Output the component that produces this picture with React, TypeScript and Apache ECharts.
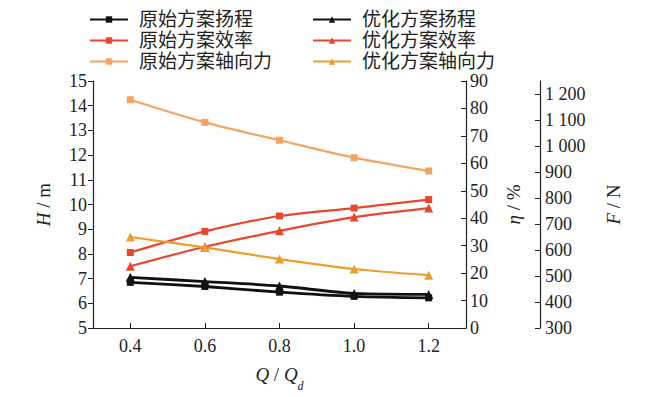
import React, { useEffect, useRef } from "react";
import * as echarts from "echarts";

const flowRatios = [0.4, 0.6, 0.8, 1.0, 1.2];
const xTicks = [0.4, 0.6, 0.8, 1.0, 1.2];
const headOriginal = [6.85, 6.68, 6.45, 6.28, 6.22];
const headOptimized = [7.05, 6.88, 6.7, 6.4, 6.36];
const effOriginal = [27.5, 35.2, 40.8, 43.7, 46.8];
const effOptimized = [22.5, 29.6, 35.4, 40.4, 43.7];
const forceOriginal = [1178, 1091, 1022, 955, 904];
const forceOptimized = [650, 610, 565, 527, 503];

const namesLeft = ["原始方案扬程", "原始方案效率", "原始方案轴向力"];
const namesRight = ["优化方案扬程", "优化方案效率", "优化方案轴向力"];

const FONT = "'Liberation Serif', 'Noto Sans CJK SC', serif";
const BLACK = "#111111";
const RED = "#e8472e";
const ORANGE_O = "#f4a462";
const ORANGE_N = "#eb9f2e";

export default function App() {
  const ref = useRef<HTMLDivElement>(null);
  useEffect(() => {
    if (!ref.current) return;
    const chart = echarts.init(ref.current, null, { renderer: "svg" });
    const pair = (xs: number[], ys: number[]) => xs.map((x, i) => [x, ys[i]]);
    const mk = (name: string, data: number[], yAxisIndex: number, color: string, symbol: string, width: number) => ({
      name,
      type: "line",
      yAxisIndex,
      data: pair(flowRatios, data),
      smooth: 0.3,
      symbol,
      symbolSize: symbol === "triangle" ? 9 : 7,
      lineStyle: { color, width },
      itemStyle: { color },
    });
    const tickLabel = { fontFamily: FONT, fontSize: 18, color: "#222" };
    const legendBase = {
      orient: "vertical",
      itemWidth: 38,
      itemHeight: 8,
      itemGap: 2,
      textStyle: { fontFamily: FONT, fontSize: 19, color: "#222", padding: [0, 0, 0, 6] },
      selectedMode: false,
    };
    const nameStyle = {
      fontFamily: FONT,
      fontSize: 19,
      color: "#222",
      rich: { i: { fontFamily: FONT, fontSize: 19, fontStyle: "italic", color: "#222" } },
    };
    chart.setOption({
      animation: false,
      backgroundColor: "#ffffff",
      grid: { left: 93, right: 184, top: 81, bottom: 65, containLabel: false },
      legend: [
        { ...legendBase, left: 84, top: 5, data: namesLeft },
        { ...legendBase, left: 307, top: 5, data: namesRight },
      ],
      xAxis: {
        type: "value",
        min: 0.3,
        max: 1.3,
        splitLine: { show: false },
        axisLine: { lineStyle: { color: "#222", width: 1.2 } },
        axisTick: { inside: true, length: 5, customValues: xTicks, lineStyle: { color: "#222" } },
        axisLabel: { ...tickLabel, customValues: xTicks, formatter: (v: number) => v.toFixed(1), margin: 9 },
        name: "{i|Q} / {i|Q}{s|d}",
        nameLocation: "middle",
        nameGap: 37,
        nameTextStyle: {
          ...nameStyle,
          rich: {
            i: { fontFamily: FONT, fontSize: 19, fontStyle: "italic", color: "#222" },
            s: { fontFamily: FONT, fontSize: 12, fontStyle: "italic", color: "#222", verticalAlign: "bottom", padding: [0, 0, -8, 0] },
          },
        },
      },
      yAxis: [
        {
          type: "value",
          min: 5,
          max: 15,
          interval: 1,
          position: "left",
          splitLine: { show: false },
          axisLine: { show: true, lineStyle: { color: "#222", width: 1.2 } },
          axisTick: { show: true, inside: false, length: 5, lineStyle: { color: "#222" } },
          axisLabel: { ...tickLabel, margin: 6 },
          name: "{i|H} / m",
          nameLocation: "middle",
          nameRotate: 90,
          nameGap: 40,
          nameTextStyle: nameStyle,
        },
        {
          type: "value",
          min: 0,
          max: 90,
          interval: 10,
          position: "right",
          offset: 0,
          splitLine: { show: false },
          axisLine: { show: true, lineStyle: { color: "#222", width: 1.2 } },
          axisTick: { show: true, inside: true, length: 5, lineStyle: { color: "#222" } },
          axisLabel: { ...tickLabel, margin: 4 },
          name: "{i|η} / %",
          nameLocation: "middle",
          nameRotate: 90,
          nameGap: 38,
          nameTextStyle: nameStyle,
        },
        {
          type: "value",
          min: 300,
          max: 1250,
          interval: 100,
          position: "right",
          offset: 74,
          splitLine: { show: false },
          axisLine: { show: true, lineStyle: { color: "#222", width: 1.2 } },
          axisTick: { show: true, inside: true, length: 5, lineStyle: { color: "#222" } },
          axisLabel: {
            ...tickLabel,
            margin: 5,
            formatter: (v: number) => (v >= 1000 ? `${Math.floor(v / 1000)} ${String(v % 1000).padStart(3, "0")}` : String(v)),
          },
          name: "{i|F} / N",
          nameLocation: "middle",
          nameRotate: 90,
          nameGap: 64,
          nameTextStyle: nameStyle,
        },
      ],
      series: [
        mk(namesLeft[0], headOriginal, 0, BLACK, "rect", 2.8),
        mk(namesLeft[1], effOriginal, 1, RED, "rect", 2.2),
        mk(namesLeft[2], forceOriginal, 2, ORANGE_O, "rect", 2.2),
        mk(namesRight[0], headOptimized, 0, BLACK, "triangle", 2.8),
        mk(namesRight[1], effOptimized, 1, RED, "triangle", 2.2),
        mk(namesRight[2], forceOptimized, 2, ORANGE_N, "triangle", 2.2),
      ],
    });
    return () => chart.dispose();
  }, []);
  return <div ref={ref} style={{ width: 650, height: 397, position: "absolute", left: 0, top: 0 }} />;
}
